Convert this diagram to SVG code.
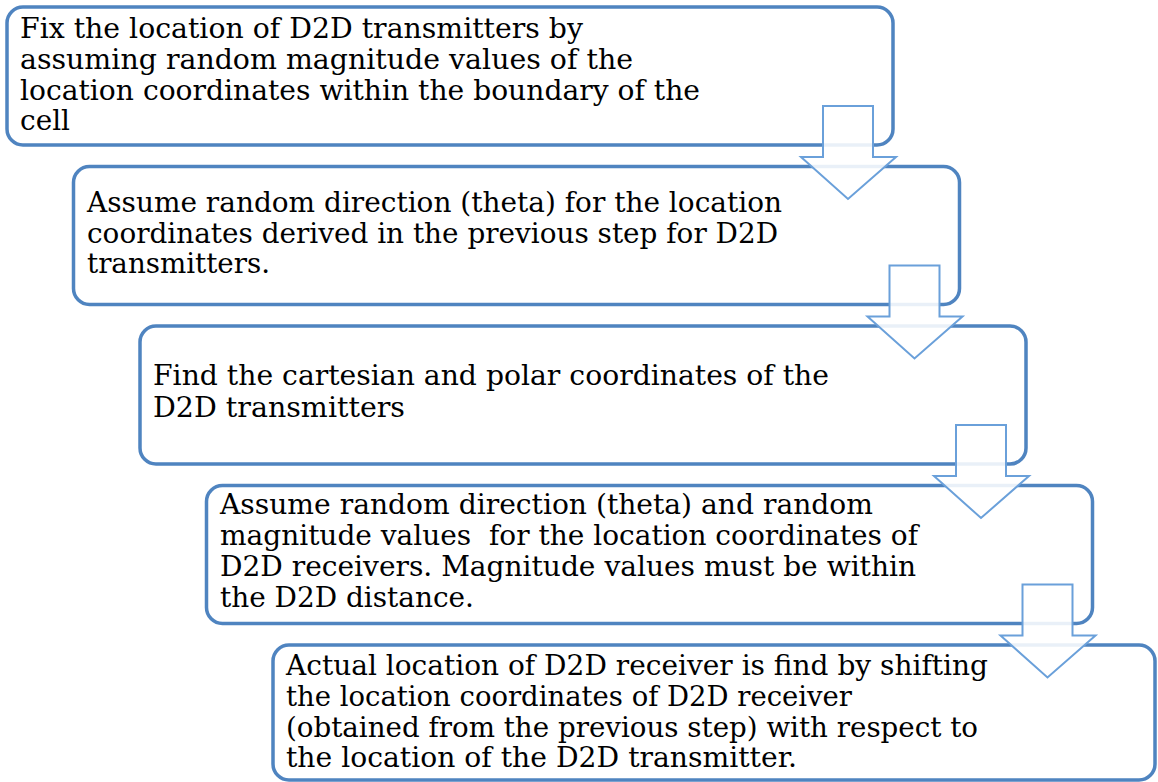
<svg xmlns="http://www.w3.org/2000/svg" width="1158" height="782" viewBox="0 0 1158 782">
<style>
.box{fill:#fff;stroke:#4f84c0;stroke-width:3.5}
.arr{fill:#fff;fill-opacity:0.88;stroke:#6aa0da;stroke-width:2;stroke-linejoin:miter}
text{font-family:"DejaVu Serif","Liberation Serif",serif;font-size:27px;fill:#000;white-space:pre}
</style>
<rect width="1158" height="782" fill="#fff"/>
<g id="node1">
<rect class="box" x="7" y="7" width="886" height="138" rx="16"/>
<text x="20" y="38" textLength="563" lengthAdjust="spacingAndGlyphs">Fix the location of D2D transmitters by</text>
<text x="20" y="69" textLength="613" lengthAdjust="spacingAndGlyphs">assuming random magnitude values of the</text>
<text x="20" y="100" textLength="680" lengthAdjust="spacingAndGlyphs">location coordinates within the boundary of the</text>
<text x="20" y="130" textLength="50" lengthAdjust="spacingAndGlyphs">cell</text>
</g>
<g id="node2">
<rect class="box" x="73.5" y="166.5" width="886" height="138" rx="16"/>
<text x="87" y="212" textLength="695" lengthAdjust="spacingAndGlyphs">Assume random direction (theta) for the location</text>
<text x="87" y="243" textLength="691" lengthAdjust="spacingAndGlyphs">coordinates derived in the previous step for D2D</text>
<text x="87" y="273" textLength="183" lengthAdjust="spacingAndGlyphs">transmitters.</text>
</g>
<g id="node3">
<rect class="box" x="140" y="326" width="886" height="138" rx="16"/>
<text x="153" y="385" textLength="676" lengthAdjust="spacingAndGlyphs">Find the cartesian and polar coordinates of the</text>
<text x="153" y="417" textLength="252" lengthAdjust="spacingAndGlyphs">D2D transmitters</text>
</g>
<g id="node4">
<rect class="box" x="206.5" y="485.5" width="886" height="138" rx="16"/>
<text x="220" y="514" textLength="653" lengthAdjust="spacingAndGlyphs">Assume random direction (theta) and random</text>
<text x="220" y="545" textLength="698" lengthAdjust="spacingAndGlyphs" xml:space="preserve">magnitude values  for the location coordinates of</text>
<text x="220" y="576" textLength="696" lengthAdjust="spacingAndGlyphs">D2D receivers. Magnitude values must be within</text>
<text x="220" y="607" textLength="254" lengthAdjust="spacingAndGlyphs">the D2D distance.</text>
</g>
<g id="node5">
<rect class="box" x="273" y="645" width="882" height="135" rx="16"/>
<text x="286" y="675" textLength="702" lengthAdjust="spacingAndGlyphs">Actual location of D2D receiver is find by shifting</text>
<text x="286" y="706" textLength="566" lengthAdjust="spacingAndGlyphs">the location coordinates of D2D receiver</text>
<text x="286" y="737" textLength="692" lengthAdjust="spacingAndGlyphs">(obtained from the previous step) with respect to</text>
<text x="286" y="767" textLength="511" lengthAdjust="spacingAndGlyphs">the location of the D2D transmitter.</text>
</g>
<g id="connectors">
<path class="arr" d="M823,106 H873 V157 H896 L848,199 L801,157 H823 Z"/>
<path class="arr" d="M889.5,265.5 H939.5 V316.5 H962.5 L914.5,358.5 L867.5,316.5 H889.5 Z"/>
<path class="arr" d="M956,425 H1006 V476 H1029 L981,518 L934,476 H956 Z"/>
<path class="arr" d="M1022.5,584.5 H1072.5 V635.5 H1095.5 L1047.5,677.5 L1000.5,635.5 H1022.5 Z"/>
</g>
</svg>
